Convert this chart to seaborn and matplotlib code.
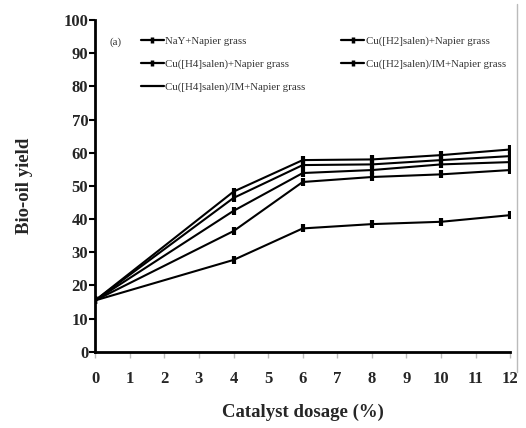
import matplotlib
matplotlib.use("Agg")
import matplotlib.pyplot as plt
import seaborn as sns
import pandas as pd
from matplotlib.lines import Line2D

dosage = [0, 4, 6, 8, 10, 12]
nay = [15.5, 27.7, 37.2, 38.5, 39.2, 41.2]
h2salen = [15.5, 36.4, 51.2, 52.7, 53.5, 54.8]
h4salen = [15.5, 42.5, 53.9, 54.8, 56.5, 57.2]
h2salen_im = [15.5, 46.4, 56.3, 56.5, 57.8, 59.0]
h4salen_im = [15.5, 48.3, 57.8, 58.0, 59.3, 61.0]

names = ["NaY+Napier grass", "Cu([H2]salen)+Napier grass", "Cu([H4]salen)+Napier grass",
         "Cu([H2]salen)/IM+Napier grass", "Cu([H4]salen)/IM+Napier grass"]
series = [nay, h2salen, h4salen, h2salen_im, h4salen_im]
x_ticks = list(range(0, 13))
y_ticks = list(range(0, 101, 10))

sns.set_theme(style="white")
plt.rcParams['font.family'] = ['Liberation Serif', 'DejaVu Serif']

fig = plt.figure(figsize=(5.26, 4.28), dpi=100)
ax = fig.add_axes([0.181, 0.178, 0.789, 0.775])

rows = []
for n, s in zip(names, series):
    for xv, yv in zip(dosage, s):
        rows.append({"x": xv, "y": yv, "series": n})
df = pd.DataFrame(rows)

for n in names:
    sub = df[df["series"] == n]
    sns.lineplot(data=sub, x="x", y="y", ax=ax, color="black", linewidth=1.5,
                 marker="|", markersize=6, markeredgewidth=3, markeredgecolor="black",
                 legend=False)

ax.set_xlim(0, 12)
ax.set_ylim(0, 100)
ax.set_xticks(x_ticks)
ax.set_yticks(y_ticks)
ax.set_xticklabels([str(t) for t in x_ticks], fontweight="bold", fontsize=12)
ax.set_yticklabels([str(t) for t in y_ticks], fontweight="bold", fontsize=12)
ax.tick_params(axis="x", direction="out", length=4, width=1, color="#bbbbbb", pad=10, bottom=True)
ax.tick_params(axis="y", direction="out", length=4, width=1.5, color="black", pad=1, left=True)
for sp in ["top", "right"]:
    ax.spines[sp].set_visible(False)
for sp in ["left", "bottom"]:
    ax.spines[sp].set_color("black")
    ax.spines[sp].set_linewidth(2)
ax.set_xlabel("Catalyst dosage (%)", fontweight="bold", fontsize=13.5, labelpad=12)
ax.set_ylabel("Bio-oil yield", fontweight="bold", fontsize=13.5, labelpad=22)

handles = {n: Line2D([], [], color="black", lw=1.6, marker="|", markersize=5, markeredgewidth=2.5) for n in names}
handles[names[4]] = Line2D([], [], color="black", lw=1.6)
order = [names[0], names[2], names[4], names[1], names[3]]
leg = fig.legend([handles[n] for n in order], order, ncol=2, loc="upper left",
                 bbox_to_anchor=(141/526, 1 - 36/428), bbox_transform=fig.transFigure,
                 frameon=False, fontsize=7.8, borderpad=0, borderaxespad=0,
                 handlelength=2.1, handletextpad=0.15, columnspacing=3.3, labelspacing=1.25)
for t in leg.get_texts():
    t.set_color("#333333")
fig.text(110/526, 1 - 42/428, "(a)", fontsize=7.8, color="#333333", va="center")

fig.add_artist(Line2D([517/526, 517/526], [0.99, 0.13], transform=fig.transFigure, color="#bbbbbb", lw=1))

fig.savefig("out.png", dpi=100)
